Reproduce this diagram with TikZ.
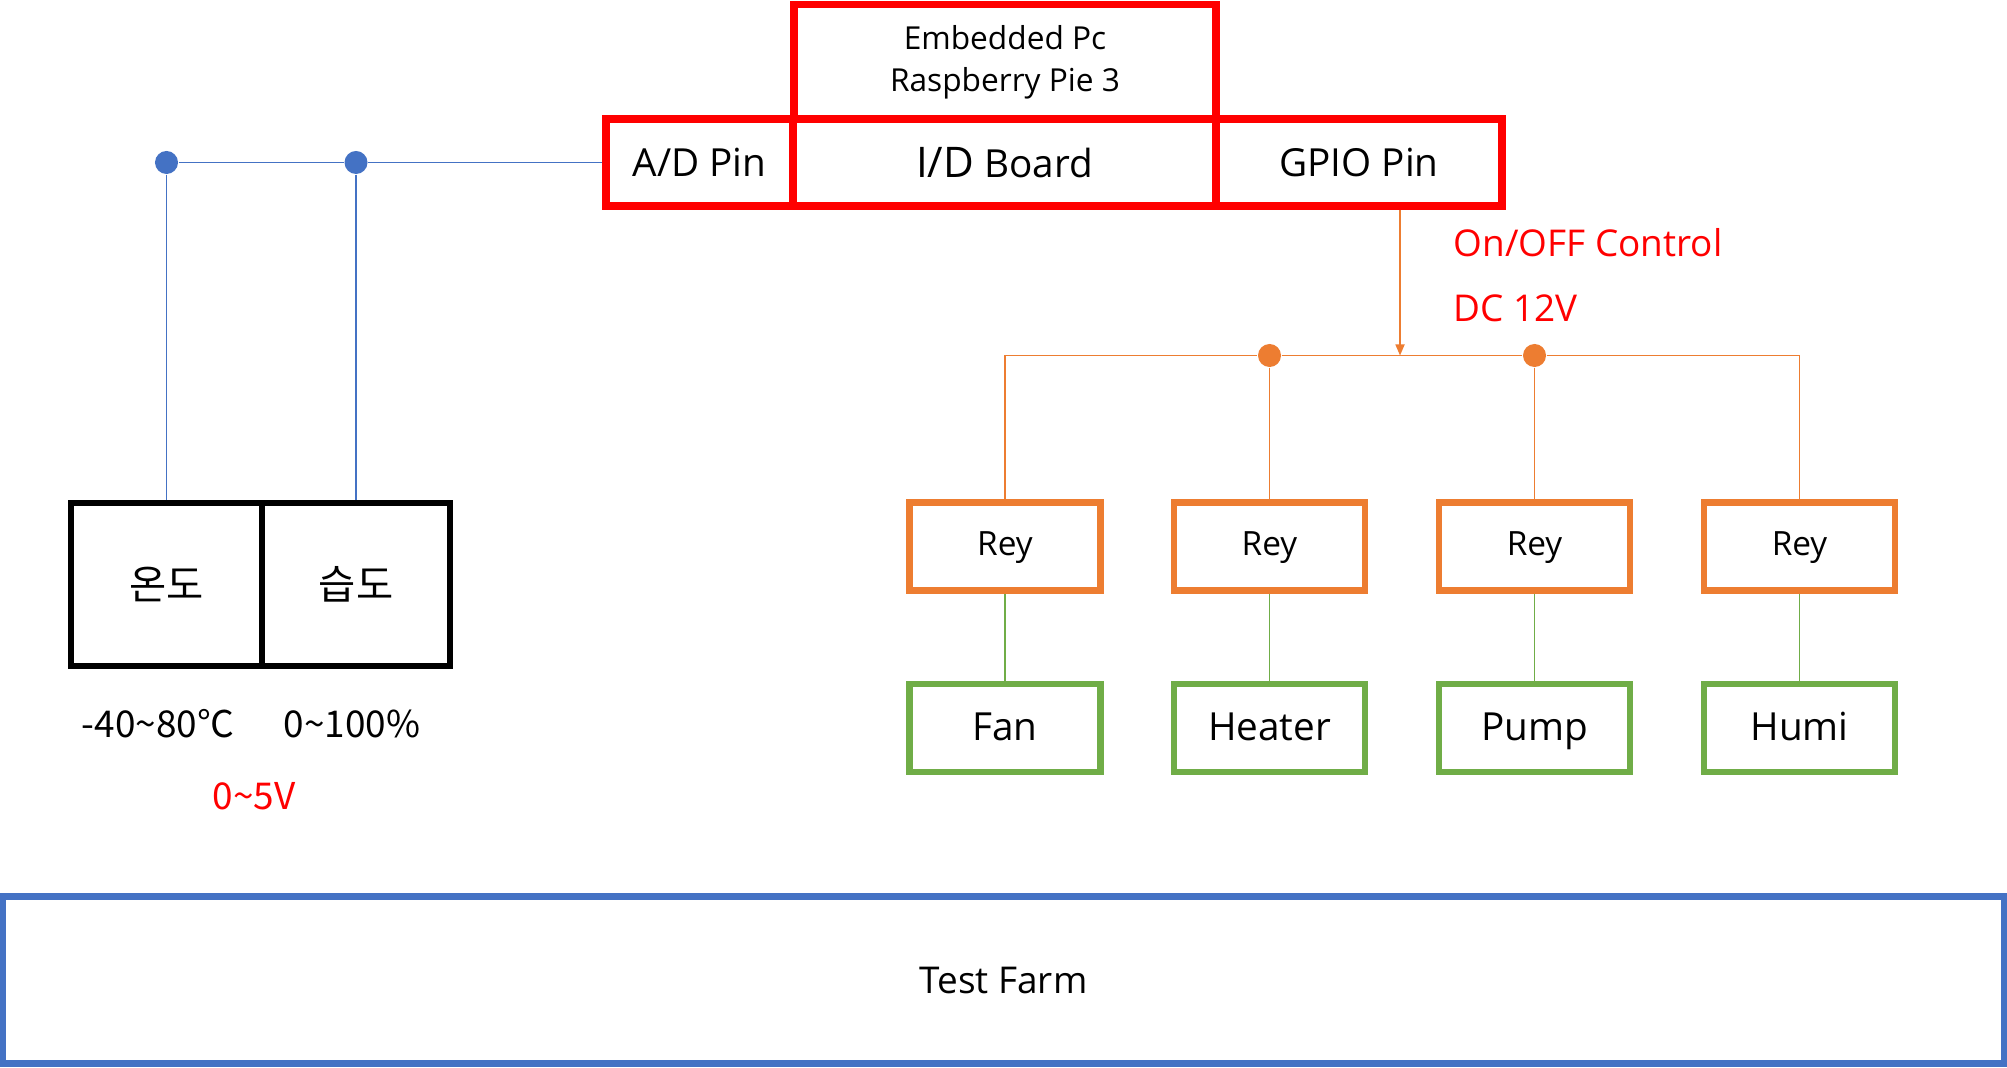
\documentclass[tikz,border=0pt]{standalone}
\usepackage{fontspec}
\setmainfont{Open Sans}
\newfontfamily\krfont{Noto Sans CJK KR}
\usetikzlibrary{arrows.meta,positioning}
\definecolor{boardred}{HTML}{FF0000}
\definecolor{wireblue}{HTML}{4472C4}
\definecolor{relayorange}{HTML}{ED7D31}
\definecolor{loadgreen}{HTML}{70AD47}
\tikzset{
  boardbox/.style={draw=boardred,line width=2.2pt,inner sep=0pt,
                   minimum height=0.87cm,align=center,
                   font=\fontsize{11}{13}\selectfont},
  sensorbox/.style={draw=black,line width=1.9pt,minimum height=1.63cm,
                    inner sep=0pt,font=\krfont\fontsize{11.5}{13}\selectfont},
  relaybox/.style={draw=relayorange,line width=1.85pt,
                   minimum width=1.91cm,minimum height=0.88cm,inner sep=0pt,
                   text height=0.72em,text depth=0.22em,
                   font=\fontsize{9.5}{11}\selectfont},
  loadbox/.style={relaybox,draw=loadgreen,text height=0.92em,
                  font=\fontsize{11}{13}\selectfont},
  farmbox/.style={draw=wireblue,line width=1.8pt,minimum width=20cm,
                  minimum height=1.67cm,inner sep=0pt,
                  font=\fontsize{10.5}{12}\selectfont},
  rangetext/.style={inner sep=0pt,font=\krfont\fontsize{10.5}{12}\selectfont},
  notetext/.style={inner sep=0pt,anchor=west,text=boardred,
                   font=\fontsize{10.5}{12}\selectfont},
  jdot/.style={circle,inner sep=0pt,minimum size=0.23cm},
  bluewire/.style={draw=wireblue,line width=0.45pt},
  orangewire/.style={draw=relayorange,line width=0.45pt},
  greenwire/.style={draw=loadgreen,line width=0.45pt},
  ctrlarr/.style={-{Triangle[length=0.11cm,width=0.09cm]},draw=relayorange,
                  fill=relayorange,line width=0.45pt}
}
\begin{document}
\begin{tikzpicture}[x=0.01cm,y=-0.01cm]
  \useasboundingbox (0,0) rectangle (2007,1067);
  % controller
  \node[boardbox,minimum width=4.22cm,minimum height=1.15cm,
        font=\fontsize{9}{12}\selectfont] (epc) at (1005,62) {Embedded Pc\\Raspberry Pie 3};
  \node[boardbox,minimum width=1.87cm] (adpin) at (699.5,162.5) {A/D Pin};
  \node[boardbox,minimum width=4.23cm] (idboard) at (1004.5,162.5) {{\fontsize{12}{14}\selectfont I/D} Board};
  \node[boardbox,minimum width=2.86cm] (gpio) at (1359,162.5) {GPIO Pin};

  % sensors
  \node[sensorbox,minimum width=1.91cm] (temp) at (166.5,584.5) {온도};
  \node[sensorbox,minimum width=1.88cm] (humid) at (356,584.5) {습도};
  \node[rangetext] (trange) at (158,724) {-40\textasciitilde 80℃};
  \node[rangetext] (hrange) at (352,724) {0\textasciitilde 100\%};
  \node[rangetext,text=boardred] (vrange) at (254,796) {0\textasciitilde 5V};
  \node[jdot,fill=wireblue] (bdot1) at (temp |- adpin) {};
  \node[jdot,fill=wireblue] (bdot2) at (humid |- adpin) {};
  \draw[bluewire] (adpin) -- (bdot2) -- (bdot1);
  \draw[bluewire] (bdot1) -- (temp);
  \draw[bluewire] (bdot2) -- (humid);

  % relays and loads
  \node[relaybox] (rey1) at (1005,546.5) {Rey};
  \node[relaybox] (rey2) at (1269.5,546.5) {Rey};
  \node[relaybox] (rey3) at (1534.5,546.5) {Rey};
  \node[relaybox] (rey4) at (1799.5,546.5) {Rey};
  \node[loadbox] (fan) at (1005,728) {Fan};
  \node[loadbox] (heater) at (1269.5,728) {Heater};
  \node[loadbox] (pump) at (1534.5,728) {Pump};
  \node[loadbox] (humi) at (1799.5,728) {Humi};
  \coordinate (tap) at (1400,355.5);
  \node[jdot,fill=relayorange] (odot1) at (rey2 |- tap) {};
  \node[jdot,fill=relayorange] (odot2) at (rey3 |- tap) {};
  \draw[ctrlarr] (tap |- gpio.south) -- (tap);
  \draw[orangewire] (rey1) |- (odot1) -- (odot2) -| (rey4);
  \draw[orangewire] (odot1) -- (rey2);
  \draw[orangewire] (odot2) -- (rey3);
  \node[notetext] (onoff) at (1453,243) {On/OFF Control};
  \node[notetext] (dcvolt) at (1453,308) {DC 12V};
  \draw[greenwire] (rey1) -- (fan);
  \draw[greenwire] (rey2) -- (heater);
  \draw[greenwire] (rey3) -- (pump);
  \draw[greenwire] (rey4) -- (humi);

  % farm
  \node[farmbox] (farm) at (1003.5,980) {Test Farm};
\end{tikzpicture}
\end{document}
